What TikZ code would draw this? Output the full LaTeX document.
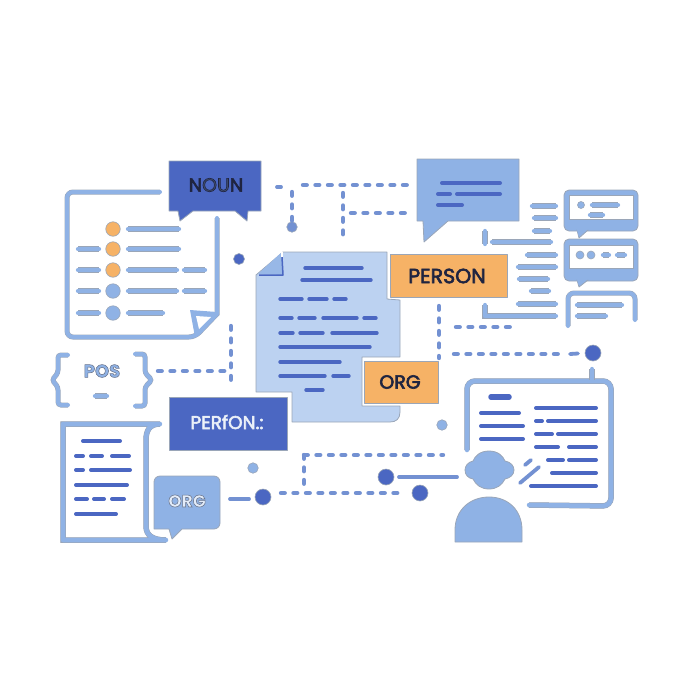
\documentclass[tikz,border=0pt]{standalone}
\usepackage{fontspec}
\setmainfont{Poppins}
\definecolor{dk}{HTML}{4B67C2}
\definecolor{lt}{HTML}{8FB2E5}
\definecolor{md}{HTML}{7391D2}
\definecolor{pale}{HTML}{BCD2F1}
\definecolor{org}{HTML}{F6B266}
\definecolor{edge}{HTML}{9AA6B8}
\definecolor{ink}{HTML}{1F2440}
\newcommand{\outl}[1]{\special{pdf:code 2 Tr 0.55 w 0.42 0.46 0.55 RG}#1\special{pdf:code 0 Tr}}
\newcommand{\thk}[1]{\special{pdf:code 2 Tr 0.6 w 0.12 0.14 0.25 RG}#1\special{pdf:code 0 Tr}}
\newcommand{\thkw}[1]{\special{pdf:code 2 Tr 0.6 w 0.9 0.92 0.96 RG}#1\special{pdf:code 0 Tr}}
\tikzset{
  x=1pt,y=-1pt,
  lbar/.style={line cap=round,line width=4.3pt,draw=lt,preaction={draw=edge,line width=5.2pt}},
  dbar/.style={line cap=round,line width=4pt,draw=dk,preaction={draw=edge!70,line width=4.7pt}},
  lframe/.style={line cap=round,line join=round,line width=4pt,draw=lt,rounded corners=6pt,preaction={draw=edge,line width=5pt}},
  link/.style={line cap=round,line width=4.4pt,draw=md,dash pattern=on 3.7pt off 8.8pt},
  mbar/.style={line cap=round,line width=3.8pt,draw=md},
  shape1/.style={draw=edge,line width=.8pt,line join=round},
  dot/.style={circle,inner sep=0pt,minimum size=#1,draw=edge,line width=.6pt},
  ddot/.style={dot=#1,fill=dk},
  ldot/.style={dot=#1,fill=lt},
  odot/.style={dot=#1,fill=org},
  tag/.style={inner sep=0pt,font=\fontsize{18.5}{20}\selectfont},
}
\begin{document}
\begin{tikzpicture}
\useasboundingbox (0,0) rectangle (686,686);
% ---- top-left list sheet
\draw[lframe] (160,192) -- (67,192) -- (67,337) -- (195,337) [sharp corners] -- (217,314) -- (217,218);
\fill[lt] (190,310) -- (217,312) -- (217,316) -- (197,337) -- (195,337) -- cycle;
\fill[white] (196,316) -- (211,317) -- (199,329) -- cycle;
\foreach \a/\b/\y in {128/179/229,78/99/249,128/179/249,78/99/270,128/177/270,184/205/270,78/99/291,128/177/291,184/205/291,78/99/313,128/163/313}
  \draw[lbar] (\a,\y) -- (\b,\y);
\node[odot=14.5pt] (b1) at (113,229) {};
\node[odot=14.5pt] (b2) at (113,249) {};
\node[odot=14.5pt] (b3) at (113,270) {};
\node[ldot=14.5pt] (b4) at (113,291) {};
\node[ldot=14.5pt] (b5) at (113,313) {};
% ---- NOUN bubble
\draw[shape1,fill=dk] (169,161) -- (261,161) -- (261,211) -- (248,211) -- (247,221) -- (235,211) -- (193,211) -- (180,221) -- (178,211) -- (169,211) -- cycle;
\node[tag,text=ink,font=\fontsize{19}{20}\selectfont] (noun) at (216,185) {\thk{N}{\color{ink!70!lt}\thk{OU}}\thk{N}};
\node[ddot=11pt] (d1) at (239,259) {};
% ---- top dashed wiring
\node[ldot=10.5pt,fill=md] (d2) at (292,227) {};
\coordinate (n1) at (277,187); \coordinate (n2) at (281,187);
\coordinate (v1) at (292,192);
\coordinate (h1) at (303,185); \coordinate (h2) at (410,185);
\coordinate (v2a) at (343,193); \coordinate (v2b) at (343,240);
\coordinate (h3a) at (351,213); \coordinate (h3b) at (409,213);
\draw[mbar] (n1) -- (n2);
\draw[link] (v1) -- (d2);
\draw[link] (h1) -- (h2);
\draw[link] (v2a) -- (v2b);
\draw[link] (h3a) -- (h3b);
% ---- big speech bubble
\draw[shape1,fill=lt] (417,159) -- (519,159) -- (519,221) -- (448,221) -- (424,242) -- (423,221) -- (417,221) -- cycle;
\foreach \a/\b/\y in {442/500/183,438/450/194,457/500/194,438/462/205}
  \draw[dbar] (\a,\y) -- (\b,\y);
% ---- right bars
\foreach \a/\b/\y in {532/556/206,534/556/218,534/550/231,492/551/242,527/556/255,518/556/267,519/548/279,531/549/291,518/556/304}
  \draw[lbar] (\a,\y) -- (\b,\y);
\draw[lbar] (485,231) -- (485,244);
\draw[lbar,line join=round] (485,305) -- (485,316) -- (556,316);
% ---- chat icons
\draw[shape1,fill=lt,rounded corners=5pt] (564,190) -- (638,190) -- (638,231) -- (564,231) -- cycle;
\draw[shape1,fill=lt] (577,230) -- (579,238) -- (588,230) -- cycle;
\draw[draw=lt,fill=lt] (577,229) -- (579,236) -- (588,229) -- cycle;
\draw[fill=white,draw=edge,line width=.6pt] (569,195) rectangle (633,219);
\node[ldot=7pt] (c1) at (581,205) {};
\draw[lbar] (592,205) -- (618,205);
\draw[lbar] (590,215) -- (603,215);
\draw[shape1,fill=lt,rounded corners=5pt] (564,239) -- (638,239) -- (638,281) -- (564,281) -- cycle;
\draw[shape1,fill=lt] (577,280) -- (579,287) -- (588,280) -- cycle;
\draw[draw=lt,fill=lt] (577,279) -- (579,285) -- (588,279) -- cycle;
\draw[fill=white,draw=edge,line width=.6pt] (569,245) rectangle (633,268);
\node[ldot=8pt] (c2) at (580,255) {};
\node[ldot=8pt] (c3) at (591,255) {};
\draw[lbar] (603,255) -- (609,255);
\draw[lbar] (617,255) -- (625,255);
\draw[lframe] (568,326) -- (568,293) -- (635,293) -- (635,320);
\draw[lbar] (577,305) -- (622,305);
\draw[lbar] (577,316) -- (606,316);
% ---- central document
\draw[shape1,fill=pale] (283,252) -- (387,252) -- (387,299) -- (400,300) -- (400,357) -- (362,357) -- (362,406) -- (400,406) -- (400,412) .. controls (400,419) and (396,422) .. (390,422) -- (292,422) -- (292,392) -- (256,392) -- (256,275) -- cycle;
\draw[draw=none,fill=lt!80!pale] (258,274) -- (282,252) -- (283,275) -- cycle;
\draw[dk,line width=1.5pt,line join=round] (282,257) -- (283,275) -- (259,275);
\draw[white,line width=1.2pt] (282,252) -- (282,257);
\foreach \a/\b/\y in {305/362/268,302/371/280,280/302/299,309/327/299,334/346/299,280/292/318,299/315/318,323/357/318,364/376/318,280/293/333,300/323/333,332/377/333,280/370/347,280/340/362,280/325/376,333/349/376,306/323/390}
  \draw[line cap=round,line width=3.4pt,draw=dk] (\a,\y) -- (\b,\y);
% ---- PERSON / ORG orange tags
\node[shape1,fill=org,minimum width=117pt,minimum height=43pt,inner sep=0pt] (person) at (448.5,275.5) {};
\node[tag,text=ink,font=\fontsize{20.5}{20}\selectfont] (personT) at (447,276) {\thk{PERSON}};
\node[shape1,fill=org,minimum width=74pt,minimum height=42pt,inner sep=0pt] (orgbox) at (401,382) {};
\node[tag,text=ink,font=\fontsize{19}{20}\selectfont] (orgT) at (400,382) {\thk{ORG}};
% ---- dashed wiring right
\node[ddot=16pt] (d3) at (593,353) {};
\coordinate (p1) at (439,306); \coordinate (p2) at (439,358);
\coordinate (p3) at (454,354); \coordinate (p4) at (562,354);
\coordinate (p5) at (570,354); \coordinate (p5b) at (578,353.5);
\coordinate (p6) at (456,327); \coordinate (p7) at (515,327);
\draw[link] (p1) -- (p2);
\draw[link] (p3) -- (p4);
\draw[mbar] (p5) -- (p5b);
\draw[link] (p6) -- (p7);
% ---- POS braces
\draw[lframe,rounded corners=3pt] (68,355) -- (58,355) -- (58,373) -- (52,380) -- (58,387) -- (58,405) -- (68,405);
\draw[lframe,rounded corners=3pt] (135,354) -- (145,354) -- (145,373) -- (152,380) -- (145,387) -- (145,406) -- (135,406);
\node[tag,text=lt,font=\fontsize{18}{20}\selectfont\bfseries] (pos) at (102,371) {\outl{POS}};
\draw[lbar] (95,396) -- (107,396);
\coordinate (q1) at (158,371); \coordinate (q2) at (226,371);
\coordinate (q3) at (231,326); \coordinate (q4) at (231,383);
\draw[link] (q1) -- (q2);
\draw[link] (q3) -- (q4);
% ---- PERSON dark
\node[shape1,fill=dk,minimum width=118pt,minimum height=53pt,inner sep=0pt] (pbox) at (228,423.5) {};
\node[tag,text=white!85!lt,font=\fontsize{18.5}{20}\selectfont] (pT) at (227,422) {\thkw{PERfON.:}};
% ---- left document
\draw[lframe,line width=4.5pt,preaction={draw=edge,line width=5.5pt},rounded corners=0pt] (160,424) .. controls (150,424) and (146,430) .. (146,440) -- (146,526) .. controls (146,535) and (152,540) .. (166,540) -- (63,540) -- (63,424) -- cycle;
\foreach \a/\b/\y in {83/120/441,76/83/456,91/102/456,112/129/456,76/83/470,91/130/470,76/127/485,76/87/499,94/104/499,112/124/499,76/116/514}
  \draw[dbar] (\a,\y) -- (\b,\y);
% ---- ORG bubble
\draw[shape1,fill=lt,rounded corners=6pt] (154,529) -- (154,476) -- (220,476) -- (220,529) [sharp corners] -- (182,529) -- (172,539) -- (169,529) -- cycle;
\node[tag,text=white!75!lt,font=\fontsize{17}{20}\selectfont\bfseries] (borg) at (187,501) {\outl{ORG}};
\node[ldot=10.5pt] (d4) at (253,468) {};
\node[ddot=16pt] (d5) at (263,497) {};
\node[ddot=16pt] (d6) at (420,493) {};
\node[ddot=16pt] (d7) at (386,477) {};
\node[ldot=10.5pt] (d8) at (442,425) {};
\coordinate (r1) at (230,499); \coordinate (r2) at (249,499);
\draw[mbar] (r1) -- (r2);
\coordinate (s1) at (281,493); \coordinate (s2) at (405,493);
\coordinate (s3) at (304,455); \coordinate (s4) at (304,490);
\coordinate (s5) at (443,455);
\draw[link] (s1) -- (s2);
\draw[link] (s3) -- (s4);
\draw[link] (s3) -- (s5);
\coordinate (t0) at (399,477); \coordinate (t1) at (457,477);
\draw[mbar] (t0) -- (t1);
% ---- board
\draw[lframe,rounded corners=8pt,line width=4.5pt,preaction={draw=edge,line width=5.5pt}] (467,450) -- (467,381) -- (611,381) -- (611,506) -- (529,505);
\draw[lbar] (592,369) -- (592,380);
\draw[dbar,line width=5.5pt,preaction={draw=edge!70,line width=6pt}] (491,397) -- (509,397);
\foreach \a/\b/\y in {481/519/413,481/523/426,481/523/439,536/596/408,536/542/421,548/596/421,536/552/434,558/596/434,536/558/447,569/596/447,548/563/460,569/596/460,552/596/473,531/596/486}
  \draw[dbar] (\a,\y) -- (\b,\y);
\draw[mbar] (525,465) -- (531,460);
\draw[mbar] (520,483) -- (539,467);
% ---- person
\draw[shape1,fill=lt] (489,451) .. controls (498,451) and (503,456) .. (505,461) .. controls (511,462) and (514,466) .. (514,470) .. controls (514,475) and (510,478) .. (505,479) .. controls (502,485) and (497,489) .. (489,489) .. controls (481,489) and (476,485) .. (473,479) .. controls (468,478) and (465,475) .. (465,470) .. controls (465,466) and (468,462) .. (473,461) .. controls (475,456) and (480,451) .. (489,451) -- cycle;
\draw[shape1,fill=lt] (455,542) -- (455,530) .. controls (455,510) and (470,497) .. (489,497) .. controls (508,497) and (522,510) .. (522,530) -- (522,542) -- cycle;
\end{tikzpicture}
\end{document}
